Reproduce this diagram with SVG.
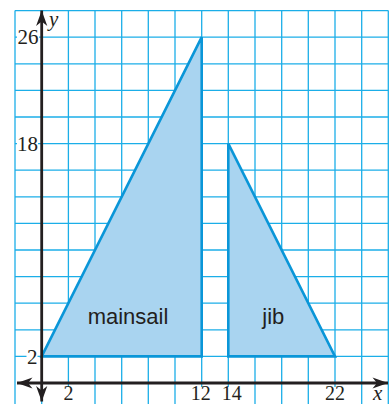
<svg xmlns="http://www.w3.org/2000/svg" width="391" height="404" viewBox="0 0 391 404">
<style>
.grid line{stroke:#1BAEE8;stroke-width:1.3}
.axis{stroke:#231F20;stroke-width:2.8;fill:none}
.sail{fill:#A9D4F0;stroke:#0A96D8;stroke-width:2.6;stroke-linejoin:miter}
.num{font-family:"Liberation Serif","Times New Roman",serif;font-size:21px;fill:#231F20}
.bot{font-size:20px}
.var{font-family:"Liberation Serif","Times New Roman",serif;font-size:21px;font-style:italic;fill:#231F20}
.lbl{font-family:"Liberation Sans",Arial,sans-serif;font-size:22px;fill:#231F20;text-anchor:middle}
.bg{fill:#FFFFFF}
</style>
<defs>
<marker id="ah" viewBox="-16 -6 17 12" refX="0" refY="0" markerWidth="17" markerHeight="12" markerUnits="userSpaceOnUse" orient="auto-start-reverse">
<path d="M0,0 L-15.5,-5.6 L-11,0 L-15.5,5.6 Z" fill="#231F20"/>
</marker>
</defs>
<rect width="391" height="404" fill="#FFFFFF"/>
<g id="grid" class="grid">
<line x1="15" y1="10.6" x2="15" y2="404"/>
<line x1="41.7" y1="10.6" x2="41.7" y2="404"/>
<line x1="68.4" y1="10.6" x2="68.4" y2="404"/>
<line x1="95" y1="10.6" x2="95" y2="404"/>
<line x1="121.7" y1="10.6" x2="121.7" y2="404"/>
<line x1="148.3" y1="10.6" x2="148.3" y2="404"/>
<line x1="175" y1="10.6" x2="175" y2="404"/>
<line x1="201.7" y1="10.6" x2="201.7" y2="404"/>
<line x1="228.3" y1="10.6" x2="228.3" y2="404"/>
<line x1="255" y1="10.6" x2="255" y2="404"/>
<line x1="281.7" y1="10.6" x2="281.7" y2="404"/>
<line x1="308.3" y1="10.6" x2="308.3" y2="404"/>
<line x1="335" y1="10.6" x2="335" y2="404"/>
<line x1="361.7" y1="10.6" x2="361.7" y2="404"/>
<line x1="388.3" y1="10.6" x2="388.3" y2="404"/>
<line x1="15" y1="10.6" x2="388.3" y2="10.6"/>
<line x1="15" y1="37.2" x2="388.3" y2="37.2"/>
<line x1="15" y1="63.8" x2="388.3" y2="63.8"/>
<line x1="15" y1="90.4" x2="388.3" y2="90.4"/>
<line x1="15" y1="117" x2="388.3" y2="117"/>
<line x1="15" y1="143.6" x2="388.3" y2="143.6"/>
<line x1="15" y1="170.2" x2="388.3" y2="170.2"/>
<line x1="15" y1="196.8" x2="388.3" y2="196.8"/>
<line x1="15" y1="223.4" x2="388.3" y2="223.4"/>
<line x1="15" y1="250" x2="388.3" y2="250"/>
<line x1="15" y1="276.6" x2="388.3" y2="276.6"/>
<line x1="15" y1="303.2" x2="388.3" y2="303.2"/>
<line x1="15" y1="329.8" x2="388.3" y2="329.8"/>
<line x1="15" y1="356.4" x2="388.3" y2="356.4"/>
</g>
<g id="mainsail">
<polygon class="sail" points="41.7,356.4 201.7,37.2 201.7,356.4"/>
<text class="lbl" x="128" y="323.5">mainsail</text>
</g>
<g id="jib">
<polygon class="sail" points="228.3,143.6 228.3,356.4 335,356.4"/>
<text class="lbl" x="273.3" y="323.5">jib</text>
</g>
<g id="connectors">
<line class="axis" x1="17" y1="383" x2="388" y2="383" marker-start="url(#ah)" marker-end="url(#ah)"/>
<line class="axis" x1="41.7" y1="10.5" x2="41.7" y2="401.5" marker-start="url(#ah)" marker-end="url(#ah)"/>
</g>
<g id="labels">
<rect class="bg" x="17" y="28" width="22" height="16"/>
<text class="num" x="38.5" y="43.5" text-anchor="end">26</text>
<rect class="bg" x="17" y="135" width="21" height="16"/>
<text class="num" x="38" y="150.5" text-anchor="end">18</text>
<rect class="bg" x="26.5" y="349" width="11" height="16"/>
<text class="num" x="37.5" y="363.5" text-anchor="end">2</text>
<rect class="bg" x="62.5" y="387" width="12" height="17"/>
<text class="num bot" x="68.4" y="399.5" text-anchor="middle">2</text>
<rect class="bg" x="190.5" y="387" width="21" height="17"/>
<text class="num bot" x="200.8" y="399.5" text-anchor="middle">12</text>
<rect class="bg" x="221" y="387" width="21" height="17"/>
<text class="num bot" x="231.7" y="399.5" text-anchor="middle">14</text>
<rect class="bg" x="324.5" y="387" width="21" height="17"/>
<text class="num bot" x="335" y="399.5" text-anchor="middle">22</text>
<text class="var" x="49" y="26">y</text>
<text class="var" x="373" y="399.5">x</text>
</g>
</svg>
